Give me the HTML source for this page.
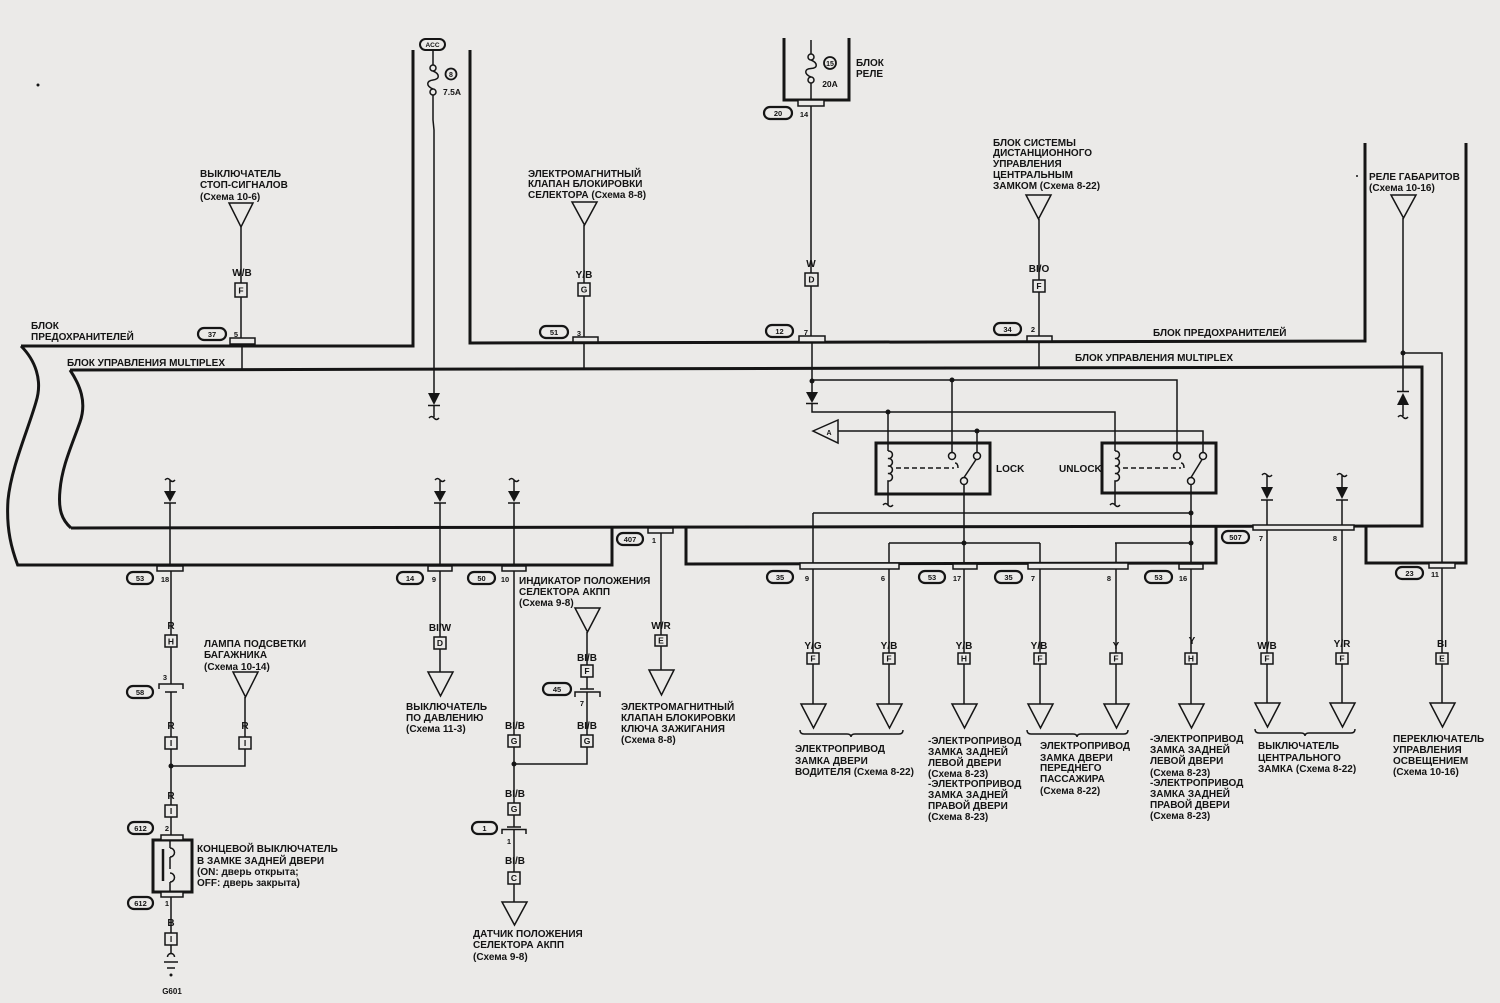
<!DOCTYPE html>
<html><head><meta charset="utf-8"><style>
html,body{margin:0;padding:0;background:#ebeae8;}
svg{display:block}
text{font-family:"Liberation Sans",Arial,sans-serif;font-weight:bold;fill:#141414;font-size:10px}
.s{font-size:7.5px}
.b{font-size:8.5px}
.c{text-anchor:middle}
</style></head><body>
<svg width="1500" height="1003" viewBox="0 0 1500 1003" xmlns="http://www.w3.org/2000/svg">
<rect width="1500" height="1003" fill="#ebeae8"/>

<!-- thick outlines -->
<g fill="none" stroke="#151515" stroke-width="3">
 <path d="M21 346 L413 346 L413 50"/>
 <path d="M470 50 L470 343 L1365 341 L1365 143"/>
 <path d="M1466 143 L1466 563 L1366 563 L1366 526"/>
 <path d="M17 565 L612 565 L612 527"/>
 <path d="M686 527 L686 564 L1216 563 L1216 526"/>
 <path d="M21 346 C35 360 43 380 36 402 C28 430 11 468 8 500 C6 530 12 550 18 566"/>
 <path d="M70 370 L1422 367 L1422 526 L71 528"/>
 <path d="M70 370 C80 385 87 402 80 422 C72 445 62 466 60 490 C58 510 62 520 71 528"/>
 <path d="M784 38 L784 100 L849 100 L849 38"/>
 <rect x="876" y="443" width="114" height="51"/>
 <rect x="1102" y="443" width="114" height="50"/>
 <rect x="153" y="840" width="39" height="52"/>
</g>

<!-- thin wires -->
<g fill="none" stroke="#151515" stroke-width="1.5">
 <!-- stop signal -->
 <path d="M229 203 L253 203 L241 227 Z"/>
 <path d="M241 227 V283 M241 297 V338 M242 344 V370"/>
 <rect x="235" y="283" width="12" height="14"/>
 <rect x="230" y="338" width="25" height="6" fill="#ebeae8"/>
 <!-- selector -->
 <path d="M572 202 L597 202 L584.5 225 Z"/>
 <path d="M584 225 V283 M584 296 V337 M584 342 V368"/>
 <rect x="578" y="283" width="12" height="13"/>
 <rect x="573" y="337" width="25" height="5" fill="#ebeae8"/>
 <!-- relay block W -->
 <path d="M811 40 V54 M811 83 V100"/>
 <circle cx="811" cy="57" r="3"/><circle cx="811" cy="80" r="3"/>
 <path d="M811 60 C818 63 818 68 811 68.5 C804 69 804 74 811 77"/>
 <rect x="798" y="100" width="26" height="6" fill="#ebeae8"/>
 <path d="M811 106 V273 M811 286 V336 M812 342 V392"/>
 <rect x="805" y="273" width="13" height="13"/>
 <rect x="799" y="336" width="26" height="6" fill="#ebeae8"/>
 <path d="M806 403.5 H818"/>
 <path d="M812 403 V412 H1115 V451"/>
 <path d="M812 380 H1177 V452.5"/>
 <path d="M952 380 V452.5"/>
 <path d="M888 412 V451"/>
 <circle cx="830" cy="63" r="6" stroke-width="1.8"/>
 <!-- ACC -->
 <rect x="420" y="39" width="25" height="11" rx="5.5" stroke-width="2"/>
 <path d="M433 50 V65 M433 95 V120 L434 130 V393"/>
 <circle cx="433" cy="68" r="3"/><circle cx="433" cy="92" r="3"/>
 <path d="M433 71 C440 74 440 79 433 80 C426 81 426 86 433 89"/>
 <circle cx="451" cy="74" r="5.5" stroke-width="1.8"/>
 <path d="M428 405.5 H440 M434 405 V417 M429 418 q2.5 -3 5 0 q2.5 3 5 0"/>
 <!-- remote lock -->
 <path d="M1026 195 L1051 195 L1038.5 219 Z"/>
 <path d="M1039 219 V280 M1039 292 V336 M1039 341 V367"/>
 <rect x="1033" y="280" width="12" height="12"/>
 <rect x="1027" y="336" width="25" height="5" fill="#ebeae8"/>
 <!-- gabarity -->
 <path d="M1391 195 L1416 195 L1403.5 218 Z"/>
 <path d="M1403 218 V391 M1403 405 V416 M1403 353 H1442 V563"/>
 <path d="M1397 391.5 H1409 M1398 417 q2.5 -3 5 0 q2.5 3 5 0"/>
 <rect x="1429" y="563" width="26" height="5" fill="#ebeae8"/>
 <path d="M1442 568 V653 M1442 664 V703"/>
 <rect x="1436" y="653" width="12" height="11"/>
 <path d="M1430 703 L1455 703 L1442.5 727 Z"/>

 <!-- bottom left 170 -->
 <path d="M165 480 q2.5 -3 5 0 q2.5 3 5 0 M170 480 V491 M164 503 H176 M170 503 V566"/>
 <rect x="157" y="566" width="26" height="5" fill="#ebeae8"/>
 <path d="M171 571 V635 M171 647 V684"/>
 <rect x="165" y="635" width="12" height="12"/>
 <path d="M159 689 V684 H183 V689 M165 692 H177 M171 692 V737"/>
 <rect x="165" y="737" width="12" height="12"/>
 <path d="M171 749 V805 M171 766 H245 V749 M245 737 V697"/>
 <rect x="239" y="737" width="12" height="12"/>
 <path d="M233 672 L258 672 L245.5 697 Z"/>
 <rect x="165" y="805" width="12" height="12"/>
 <path d="M171 817 V835"/>
 <rect x="161" y="835" width="22" height="5" fill="#ebeae8"/>
 <rect x="161" y="892" width="22" height="5" fill="#ebeae8"/>
 <path d="M163 849 V881" stroke-width="2.5"/>
 <path d="M170 840 V848 M170 857 V869 M170 882 V892"/>
 <path d="M170 848 A4.5 4.5 0 0 1 170 857 M170 873 A4.5 4.5 0 0 1 170 882"/>
 <path d="M171 897 V933 M171 945 V953"/>
 <rect x="165" y="933" width="12" height="12"/>
 <path d="M167.5 957 A3.5 3.5 0 0 1 174.5 957 M164 962 H178 M167 968 H175"/>
 <!-- 440 -->
 <path d="M435 480 q2.5 -3 5 0 q2.5 3 5 0 M440 480 V491 M434 503 H446 M440 503 V566"/>
 <rect x="428" y="566" width="24" height="5" fill="#ebeae8"/>
 <path d="M440 571 V637 M440 649 V672"/>
 <rect x="434" y="637" width="12" height="12"/>
 <path d="M428 672 L453 672 L440.5 696 Z"/>
 <!-- 514 -->
 <path d="M509 480 q2.5 -3 5 0 q2.5 3 5 0 M514 480 V491 M508 503 H520 M514 503 V566"/>
 <rect x="502" y="566" width="24" height="5" fill="#ebeae8"/>
 <path d="M514 571 V735 M514 747 V803"/>
 <rect x="508" y="735" width="12" height="12"/>
 <rect x="508" y="803" width="12" height="12"/>
 <path d="M514 815 V827 M507 827 H521 M502 834 V829.5 H526 V834 M514 829.5 V872"/>
 <rect x="508" y="872" width="12" height="12"/>
 <path d="M514 884 V902"/>
 <path d="M502 902 L527 902 L514.5 925 Z"/>
 <!-- 587 -->
 <path d="M575 608 L600 608 L587.5 632 Z"/>
 <path d="M587 632 V665 M587 677 V689 M580 689 H594 M575 697 V692 H600 V697 M587 692 V735 M587 747 V764 H514"/>
 <rect x="581" y="665" width="12" height="12"/>
 <rect x="581" y="735" width="12" height="12"/>
 <!-- 407 -->
 <rect x="648" y="528" width="25" height="5" fill="#ebeae8"/>
 <path d="M661 533 V635 M661 646 V670"/>
 <rect x="655" y="635" width="12" height="11"/>
 <path d="M649 670 L674 670 L661.5 695 Z"/>

 <!-- relays -->
 <path d="M888 451 a3.8 3.8 0 1 1 0 7.5 a3.8 3.8 0 1 1 0 7.5 a3.8 3.8 0 1 1 0 7.5 a3.8 3.8 0 1 1 0 7.5 V505"/>
 <path d="M883 505 q2.5 -3 5 0 q2.5 3 5 0"/>
 <path d="M896 468 H954" stroke-dasharray="5 3"/>
 <path d="M955 463 q3 0 3 5"/>
 <circle cx="952" cy="456" r="3.5"/><circle cx="977" cy="456" r="3.5"/><circle cx="964" cy="481" r="3.5"/>
 <path d="M964 477.5 L976 459.5 M977 431 V452.5"/>
 <path d="M1115 451 a3.8 3.8 0 1 1 0 7.5 a3.8 3.8 0 1 1 0 7.5 a3.8 3.8 0 1 1 0 7.5 a3.8 3.8 0 1 1 0 7.5 V505"/>
 <path d="M1110 505 q2.5 -3 5 0 q2.5 3 5 0"/>
 <path d="M1123 468 H1181" stroke-dasharray="5 3"/>
 <path d="M1181 463 q3 0 3 5"/>
 <circle cx="1177" cy="456" r="3.5"/><circle cx="1203" cy="456" r="3.5"/><circle cx="1191" cy="481" r="3.5"/>
 <path d="M1191 477.5 L1202 459.5"/>
 <path d="M813 431 L838 420 L838 443 Z"/>
 <path d="M838 431 H1203 V452.5"/>
 <!-- lower network -->
 <path d="M813 513 H1191 M889 543 H1040 M1115 543 H1191"/>
 <path d="M964 484.5 V564 M1191 484.5 V564"/>
 <path d="M813 513 V563 M889 543 V563 M1040 543 V563 M1116 543 V563"/>
 <rect x="800" y="563" width="99" height="6" fill="#ebeae8"/>
 <rect x="953" y="564" width="24" height="5" fill="#ebeae8"/>
 <rect x="1028" y="563" width="100" height="6" fill="#ebeae8"/>
 <rect x="1179" y="564" width="24" height="5" fill="#ebeae8"/>
 <path d="M813 569 V653 M813 664 V704 M889 569 V653 M889 664 V704 M964 569 V653 M964 664 V704 M1040 569 V653 M1040 664 V704 M1116 569 V653 M1116 664 V704 M1191 569 V653 M1191 664 V704"/>
 <rect x="807" y="653" width="12" height="11"/>
 <rect x="883" y="653" width="12" height="11"/>
 <rect x="958" y="653" width="12" height="11"/>
 <rect x="1034" y="653" width="12" height="11"/>
 <rect x="1110" y="653" width="12" height="11"/>
 <rect x="1185" y="653" width="12" height="11"/>
 <path d="M801 704 L826 704 L813.5 728 Z"/>
 <path d="M877 704 L902 704 L889.5 728 Z"/>
 <path d="M952 704 L977 704 L964.5 728 Z"/>
 <path d="M1028 704 L1053 704 L1040.5 728 Z"/>
 <path d="M1104 704 L1129 704 L1116.5 728 Z"/>
 <path d="M1179 704 L1204 704 L1191.5 728 Z"/>
 <!-- 507 -->
 <path d="M1262 475 q2.5 -3 5 0 q2.5 3 5 0 M1267 475 V487 M1261 500 H1273 M1267 500 V525"/>
 <path d="M1337 475 q2.5 -3 5 0 q2.5 3 5 0 M1342 475 V487 M1336 500 H1348 M1342 500 V525"/>
 <rect x="1253" y="525" width="101" height="5" fill="#ebeae8"/>
 <path d="M1267 530 V653 M1267 664 V703 M1342 530 V653 M1342 664 V703"/>
 <rect x="1261" y="653" width="12" height="11"/>
 <rect x="1336" y="653" width="12" height="11"/>
 <path d="M1255 703 L1280 703 L1267.5 727 Z"/>
 <path d="M1330 703 L1355 703 L1342.5 727 Z"/>
 <!-- braces -->
 <path d="M800 730 Q800 734 804 734 L847 734 Q851 734 851 737 Q851 734 855 734 L899 734 Q903 734 903 730"/>
 <path d="M1027 730 Q1027 734 1031 734 L1073 734 Q1077 734 1077 737 Q1077 734 1081 734 L1124 734 Q1128 734 1128 730"/>
 <path d="M1255 729 Q1255 733 1259 733 L1301 733 Q1305 733 1305 736 Q1305 733 1309 733 L1351 733 Q1355 733 1355 729"/>
</g>

<!-- filled diodes & dots -->
<g fill="#151515" stroke="none">
 <path d="M806 392 L818 392 L812 403 Z"/>
 <path d="M428 393 L440 393 L434 405 Z"/>
 <path d="M1397 405 L1409 405 L1403 393 Z"/>
 <path d="M164 491 L176 491 L170 502 Z"/>
 <path d="M434 491 L446 491 L440 502 Z"/>
 <path d="M508 491 L520 491 L514 502 Z"/>
 <path d="M1261 487 L1273 487 L1267 499 Z"/>
 <path d="M1336 487 L1348 487 L1342 499 Z"/>
 <circle cx="812" cy="381" r="2.5"/><circle cx="952" cy="380" r="2.5"/>
 <circle cx="888" cy="412" r="2.5"/><circle cx="977" cy="431" r="2.5"/>
 <circle cx="964" cy="543" r="2.5"/><circle cx="1191" cy="513" r="2.5"/>
 <circle cx="1191" cy="543" r="2.5"/><circle cx="1403" cy="353" r="2.5"/>
 <circle cx="171" cy="766" r="2.5"/><circle cx="514" cy="764" r="2.5"/>
 <circle cx="171" cy="975" r="1.5"/>
 <circle cx="38" cy="85" r="1.5"/><circle cx="1357" cy="176" r="1"/>
</g>

<!-- connector ovals -->
<g fill="none" stroke="#151515" stroke-width="2.2">
 <rect x="198" y="328" width="28" height="12" rx="6"/>
 <rect x="540" y="326" width="28" height="12" rx="6"/>
 <rect x="764" y="107" width="28" height="12" rx="6"/>
 <rect x="766" y="325" width="27" height="12" rx="6"/>
 <rect x="994" y="323" width="27" height="12" rx="6"/>
 <rect x="127" y="572" width="26" height="12" rx="6"/>
 <rect x="397" y="572" width="26" height="12" rx="6"/>
 <rect x="468" y="572" width="27" height="12" rx="6"/>
 <rect x="617" y="533" width="26" height="12" rx="6"/>
 <rect x="127" y="686" width="26" height="12" rx="6"/>
 <rect x="128" y="822" width="25" height="12" rx="6"/>
 <rect x="128" y="897" width="25" height="12" rx="6"/>
 <rect x="543" y="683" width="28" height="12" rx="6"/>
 <rect x="472" y="822" width="25" height="12" rx="6"/>
 <rect x="767" y="571" width="26" height="12" rx="6"/>
 <rect x="919" y="571" width="26" height="12" rx="6"/>
 <rect x="995" y="571" width="27" height="12" rx="6"/>
 <rect x="1145" y="571" width="27" height="12" rx="6"/>
 <rect x="1222" y="531" width="27" height="12" rx="6"/>
 <rect x="1396" y="567" width="27" height="12" rx="6"/>
</g>
<g class="s">
 <text class="c s" x="212" y="337">37</text>
 <text class="c s" x="554" y="335">51</text>
 <text class="c s" x="778" y="116">20</text>
 <text class="c s" x="779.5" y="334">12</text>
 <text class="c s" x="1007.5" y="332">34</text>
 <text class="c s" x="140" y="581">53</text>
 <text class="c s" x="410" y="581">14</text>
 <text class="c s" x="481.5" y="581">50</text>
 <text class="c s" x="630" y="542">407</text>
 <text class="c s" x="140" y="695">58</text>
 <text class="c s" x="140.5" y="831">612</text>
 <text class="c s" x="140.5" y="906">612</text>
 <text class="c s" x="557" y="692">45</text>
 <text class="c s" x="484.5" y="831">1</text>
 <text class="c s" x="780" y="580">35</text>
 <text class="c s" x="932" y="580">53</text>
 <text class="c s" x="1008.5" y="580">35</text>
 <text class="c s" x="1158.5" y="580">53</text>
 <text class="c s" x="1235.5" y="540">507</text>
 <text class="c s" x="1409.5" y="576">23</text>
 <text class="c s" x="432.5" y="47" style="font-size:6.5px">ACC</text>
 <text class="c s" x="451" y="77" style="font-size:7px">8</text>
 <text class="c s" x="830" y="66" style="font-size:7px">15</text>
 <text class="c" x="452" y="95" style="font-size:8.5px">7.5A</text>
 <text class="c" x="830" y="87" style="font-size:8.5px">20A</text>
</g>

<!-- pin numbers -->
<g>
 <text class="c s" x="236" y="337">5</text>
 <text class="c s" x="579" y="336">3</text>
 <text class="c s" x="804" y="117">14</text>
 <text class="c s" x="806" y="335">7</text>
 <text class="c s" x="1033" y="332">2</text>
 <text class="c s" x="165" y="582">18</text>
 <text class="c s" x="434" y="582">9</text>
 <text class="c s" x="505" y="582">10</text>
 <text class="c s" x="654" y="543">1</text>
 <text class="c s" x="165" y="680">3</text>
 <text class="c s" x="582" y="706">7</text>
 <text class="c s" x="509" y="844">1</text>
 <text class="c s" x="167" y="831">2</text>
 <text class="c s" x="167" y="906">1</text>
 <text class="c s" x="807" y="581">9</text>
 <text class="c s" x="883" y="581">6</text>
 <text class="c s" x="957" y="581">17</text>
 <text class="c s" x="1033" y="581">7</text>
 <text class="c s" x="1109" y="581">8</text>
 <text class="c s" x="1183" y="581">16</text>
 <text class="c s" x="1261" y="541">7</text>
 <text class="c s" x="1335" y="541">8</text>
 <text class="c s" x="1435" y="577">11</text>
</g>

<!-- box letters -->
<g class="b">
 <text class="c b" x="241" y="293.5">F</text>
 <text class="c b" x="584" y="292.5">G</text>
 <text class="c b" x="811.5" y="282.5">D</text>
 <text class="c b" x="1039" y="289">F</text>
 <text class="c b" x="1442" y="661.5">E</text>
 <text class="c b" x="171" y="644.5">H</text>
 <text class="c b" x="171" y="746">I</text>
 <text class="c b" x="245" y="746">I</text>
 <text class="c b" x="171" y="814">I</text>
 <text class="c b" x="171" y="942">I</text>
 <text class="c b" x="440" y="646">D</text>
 <text class="c b" x="514" y="744">G</text>
 <text class="c b" x="514" y="812">G</text>
 <text class="c b" x="514" y="881">C</text>
 <text class="c b" x="587" y="674">F</text>
 <text class="c b" x="587" y="744">G</text>
 <text class="c b" x="661" y="643.5">E</text>
 <text class="c b" x="813" y="661.5">F</text>
 <text class="c b" x="889" y="661.5">F</text>
 <text class="c b" x="964" y="661.5">H</text>
 <text class="c b" x="1040" y="661.5">F</text>
 <text class="c b" x="1116" y="661.5">F</text>
 <text class="c b" x="1191" y="661.5">H</text>
 <text class="c b" x="1267" y="661.5">F</text>
 <text class="c b" x="1342" y="661.5">F</text>
</g>

<!-- wire colour labels -->
<g>
 <text class="c" x="242" y="276">W/B</text>
 <text class="c" x="584" y="278">Y/B</text>
 <text class="c" x="811" y="267">W</text>
 <text class="c" x="1039" y="272">BI/O</text>
 <text class="c" x="171" y="629">R</text>
 <text class="c" x="171" y="729">R</text>
 <text class="c" x="245" y="729">R</text>
 <text class="c" x="171" y="799">R</text>
 <text class="c" x="171" y="926">B</text>
 <text class="c" x="440" y="631">BI/W</text>
 <text class="c" x="587" y="661">BI/B</text>
 <text class="c" x="515" y="729">BI/B</text>
 <text class="c" x="587" y="729">BI/B</text>
 <text class="c" x="515" y="797">BI/B</text>
 <text class="c" x="515" y="864">BI/B</text>
 <text class="c" x="661" y="629">W/R</text>
 <text class="c" x="813" y="649">Y/G</text>
 <text class="c" x="889" y="649">Y/B</text>
 <text class="c" x="964" y="649">Y/B</text>
 <text class="c" x="1039" y="649">Y/B</text>
 <text class="c" x="1116" y="649">Y</text>
 <text class="c" x="1192" y="644">Y</text>
 <text class="c" x="1267" y="649">W/B</text>
 <text class="c" x="1342" y="647">Y/R</text>
 <text class="c" x="1442" y="647">BI</text>
 <text class="c" x="829" y="435" style="font-size:7px">A</text>
</g>

<!-- descriptive text -->
<g>
 <text x="31" y="329">БЛОК</text>
 <text x="31" y="340">ПРЕДОХРАНИТЕЛЕЙ</text>
 <text x="67" y="366">БЛОК УПРАВЛЕНИЯ MULTIPLEX</text>
 <text x="1153" y="336">БЛОК ПРЕДОХРАНИТЕЛЕЙ</text>
 <text x="1075" y="361">БЛОК УПРАВЛЕНИЯ MULTIPLEX</text>

 <text x="200" y="177">ВЫКЛЮЧАТЕЛЬ</text>
 <text x="200" y="188">СТОП-СИГНАЛОВ</text>
 <text x="200" y="200">(Схема 10-6)</text>

 <text x="528" y="177">ЭЛЕКТРОМАГНИТНЫЙ</text>
 <text x="528" y="187">КЛАПАН БЛОКИРОВКИ</text>
 <text x="528" y="198">СЕЛЕКТОРА (Схема 8-8)</text>

 <text x="856" y="66">БЛОК</text>
 <text x="856" y="77">РЕЛЕ</text>

 <text x="993" y="146">БЛОК СИСТЕМЫ</text>
 <text x="993" y="156">ДИСТАНЦИОННОГО</text>
 <text x="993" y="167">УПРАВЛЕНИЯ</text>
 <text x="993" y="178">ЦЕНТРАЛЬНЫМ</text>
 <text x="993" y="189">ЗАМКОМ (Схема 8-22)</text>

 <text x="1369" y="180">РЕЛЕ ГАБАРИТОВ</text>
 <text x="1369" y="191">(Схема 10-16)</text>

 <text x="996" y="472">LOCK</text>
 <text x="1059" y="472">UNLOCK</text>

 <text x="204" y="647">ЛАМПА ПОДСВЕТКИ</text>
 <text x="204" y="658">БАГАЖНИКА</text>
 <text x="204" y="670">(Схема 10-14)</text>

 <text x="197" y="852">КОНЦЕВОЙ ВЫКЛЮЧАТЕЛЬ</text>
 <text x="197" y="864">В ЗАМКЕ ЗАДНЕЙ ДВЕРИ</text>
 <text x="197" y="875">(ON: дверь открыта;</text>
 <text x="197" y="886">OFF: дверь закрыта)</text>
 <text class="c" x="172" y="994" style="font-size:8px">G601</text>

 <text x="406" y="710">ВЫКЛЮЧАТЕЛЬ</text>
 <text x="406" y="721">ПО ДАВЛЕНИЮ</text>
 <text x="406" y="732">(Схема 11-3)</text>

 <text x="519" y="584">ИНДИКАТОР ПОЛОЖЕНИЯ</text>
 <text x="519" y="595">СЕЛЕКТОРА АКПП</text>
 <text x="519" y="606">(Схема 9-8)</text>

 <text x="621" y="710">ЭЛЕКТРОМАГНИТНЫЙ</text>
 <text x="621" y="721">КЛАПАН БЛОКИРОВКИ</text>
 <text x="621" y="732">КЛЮЧА ЗАЖИГАНИЯ</text>
 <text x="621" y="743">(Схема 8-8)</text>

 <text x="473" y="937">ДАТЧИК ПОЛОЖЕНИЯ</text>
 <text x="473" y="948">СЕЛЕКТОРА АКПП</text>
 <text x="473" y="960">(Схема 9-8)</text>

 <text x="795" y="752">ЭЛЕКТРОПРИВОД</text>
 <text x="795" y="764">ЗАМКА ДВЕРИ</text>
 <text x="795" y="775">ВОДИТЕЛЯ (Схема 8-22)</text>

 <text x="928" y="744">-ЭЛЕКТРОПРИВОД</text>
 <text x="928" y="755">ЗАМКА ЗАДНЕЙ</text>
 <text x="928" y="766">ЛЕВОЙ ДВЕРИ</text>
 <text x="928" y="777">(Схема 8-23)</text>
 <text x="928" y="787">-ЭЛЕКТРОПРИВОД</text>
 <text x="928" y="798">ЗАМКА ЗАДНЕЙ</text>
 <text x="928" y="809">ПРАВОЙ ДВЕРИ</text>
 <text x="928" y="820">(Схема 8-23)</text>

 <text x="1040" y="749">ЭЛЕКТРОПРИВОД</text>
 <text x="1040" y="761">ЗАМКА ДВЕРИ</text>
 <text x="1040" y="771">ПЕРЕДНЕГО</text>
 <text x="1040" y="782">ПАССАЖИРА</text>
 <text x="1040" y="794">(Схема 8-22)</text>

 <text x="1150" y="742">-ЭЛЕКТРОПРИВОД</text>
 <text x="1150" y="753">ЗАМКА ЗАДНЕЙ</text>
 <text x="1150" y="764">ЛЕВОЙ ДВЕРИ</text>
 <text x="1150" y="776">(Схема 8-23)</text>
 <text x="1150" y="786">-ЭЛЕКТРОПРИВОД</text>
 <text x="1150" y="797">ЗАМКА ЗАДНЕЙ</text>
 <text x="1150" y="808">ПРАВОЙ ДВЕРИ</text>
 <text x="1150" y="819">(Схема 8-23)</text>

 <text x="1258" y="749">ВЫКЛЮЧАТЕЛЬ</text>
 <text x="1258" y="761">ЦЕНТРАЛЬНОГО</text>
 <text x="1258" y="772">ЗАМКА (Схема 8-22)</text>

 <text x="1393" y="742">ПЕРЕКЛЮЧАТЕЛЬ</text>
 <text x="1393" y="753">УПРАВЛЕНИЯ</text>
 <text x="1393" y="764">ОСВЕЩЕНИЕМ</text>
 <text x="1393" y="775">(Схема 10-16)</text>
</g>
</svg>
</body></html>
